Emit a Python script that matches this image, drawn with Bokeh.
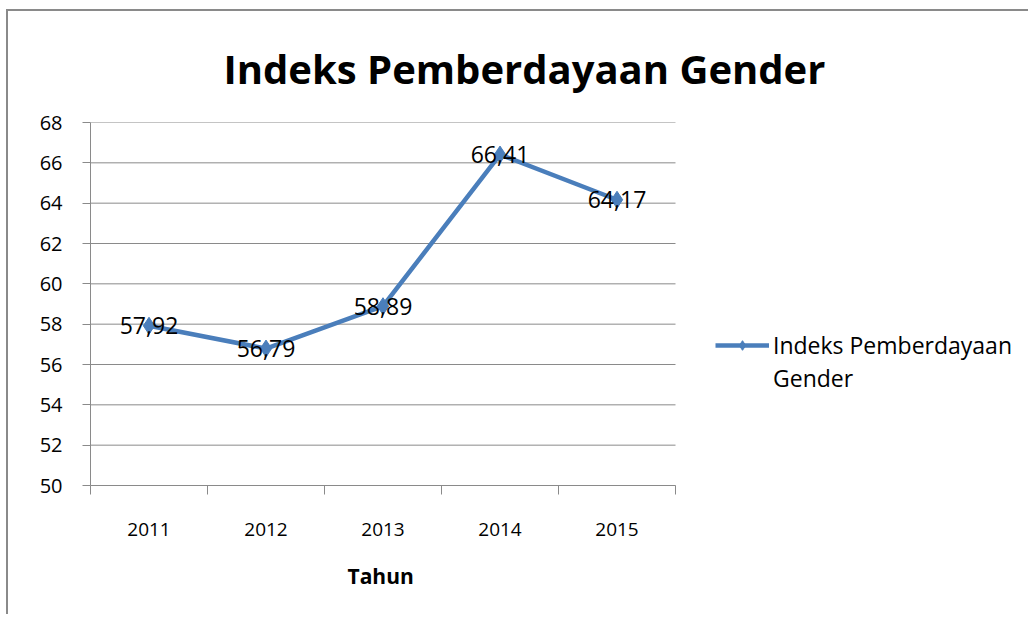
from bokeh.plotting import figure
from bokeh.models import Range1d, FixedTicker, Legend, LegendItem, Title
from bokeh.core.properties import value
from bokeh.embed import file_html
from bokeh.resources import INLINE

years = ["2011", "2012", "2013", "2014", "2015"]
values = [57.92, 56.79, 58.89, 66.41, 64.17]
y_ticks = [50, 52, 54, 56, 58, 60, 62, 64, 66, 68]
title_text = "Indeks Pemberdayaan Gender"
series_name_1 = "Indeks Pemberdayaan"
series_name_2 = "Gender"
x_title = "Tahun"

labels = [f"{v:.2f}".replace(".", ",") for v in values]

FONT = "Open Sans"
GREY = "#8a8a8a"
BLUE = "#4a7ebb"

W, H = 1022, 605
LEFT, TOP, BOTTOM = 82, 111, 131
PLOT_W = 585                      # width of the plotting area inside the frame
n = len(years)
pos = [i + 0.5 for i in range(n)]  # category centres
frame_w = W - LEFT
x_end = n * frame_w / PLOT_W       # frame extends right to hold the legend

p = figure(width=W, height=H, output_backend="svg", toolbar_location=None,
           x_range=Range1d(0, x_end), y_range=Range1d(y_ticks[0], y_ticks[-1]),
           title=title_text,
           min_border_left=LEFT, min_border_right=0, min_border_top=TOP,
           min_border_bottom=BOTTOM)
p.styles = {"border-top": "2px solid " + GREY, "border-left": "2px solid " + GREY,
            "margin-top": "9px", "margin-left": "6px"}
p.outline_line_color = None
p.background_fill_color = "white"
p.border_fill_color = "white"

# title
p.title.text_font = FONT
p.title.text_font_style = "bold"
p.title.text_font_size = "40px"
p.title.text_color = "black"
p.title.align = "left"
p.title.offset = 133
p.title.standoff = 53

# y axis
yax = p.yaxis[0]
yax.ticker = FixedTicker(ticks=y_ticks)
yax.axis_line_color = GREY
yax.major_tick_line_color = GREY
yax.major_tick_out = 8
yax.major_tick_in = 0
yax.minor_tick_line_color = None
yax.major_label_text_font = FONT
yax.major_label_text_font_size = "20px"
yax.major_label_text_color = "black"
yax.major_label_standoff = 20

p.xgrid.visible = False
p.ygrid.visible = False
# horizontal gridlines limited to the plotting area
p.segment(x0=[0] * len(y_ticks), x1=[n] * len(y_ticks), y0=y_ticks, y1=y_ticks,
          line_color=GREY, line_width=1)

# x axis: labels at category centres, ticks at category boundaries
xax = p.xaxis[0]
xax.bounds = (0, n)
xax.ticker = FixedTicker(ticks=pos, minor_ticks=list(range(n + 1)))
xax.major_label_overrides = {pos[i]: years[i] for i in range(n)}
xax.axis_line_color = GREY
xax.major_tick_line_color = None
xax.major_tick_out = 0
xax.major_tick_in = 0
xax.minor_tick_line_color = GREY
xax.minor_tick_out = 9
xax.minor_tick_in = 0
xax.major_label_text_font = FONT
xax.major_label_text_font_size = "19px"
xax.major_label_text_color = "black"
xax.major_label_standoff = 28

# x-axis title, centred under the plotting area
xt = Title(text=x_title, align="left", offset=257, vertical_align="top", standoff=46,
           text_font=FONT, text_font_style="bold", text_font_size="21px",
           text_color="black")
p.add_layout(xt, "below")

# series
line_r = p.line(x=pos, y=values, line_color=BLUE, line_width=4.5)
mark_r = p.scatter(x=pos, y=values, marker="diamond", size=17,
                   fill_color=BLUE, line_color=BLUE)
p.text(x=pos, y=values, text=labels, text_align="center",
       text_baseline="middle", text_font=value(FONT), text_font_size="23px",
       text_color="black")

legend = Legend(items=[LegendItem(label=series_name_1, renderers=[line_r, mark_r]),
                       LegendItem(label=series_name_2, renderers=[])],
                location=(625, 91), orientation="vertical",
                glyph_width=54, glyph_height=24, label_height=24, spacing=1,
                padding=0, margin=0, label_standoff=4,
                label_text_font=FONT, label_text_font_size="23px",
                label_text_color="black",
                border_line_color=None, background_fill_alpha=0)
p.add_layout(legend)

open("out.html", "w").write(file_html(p, INLINE))
